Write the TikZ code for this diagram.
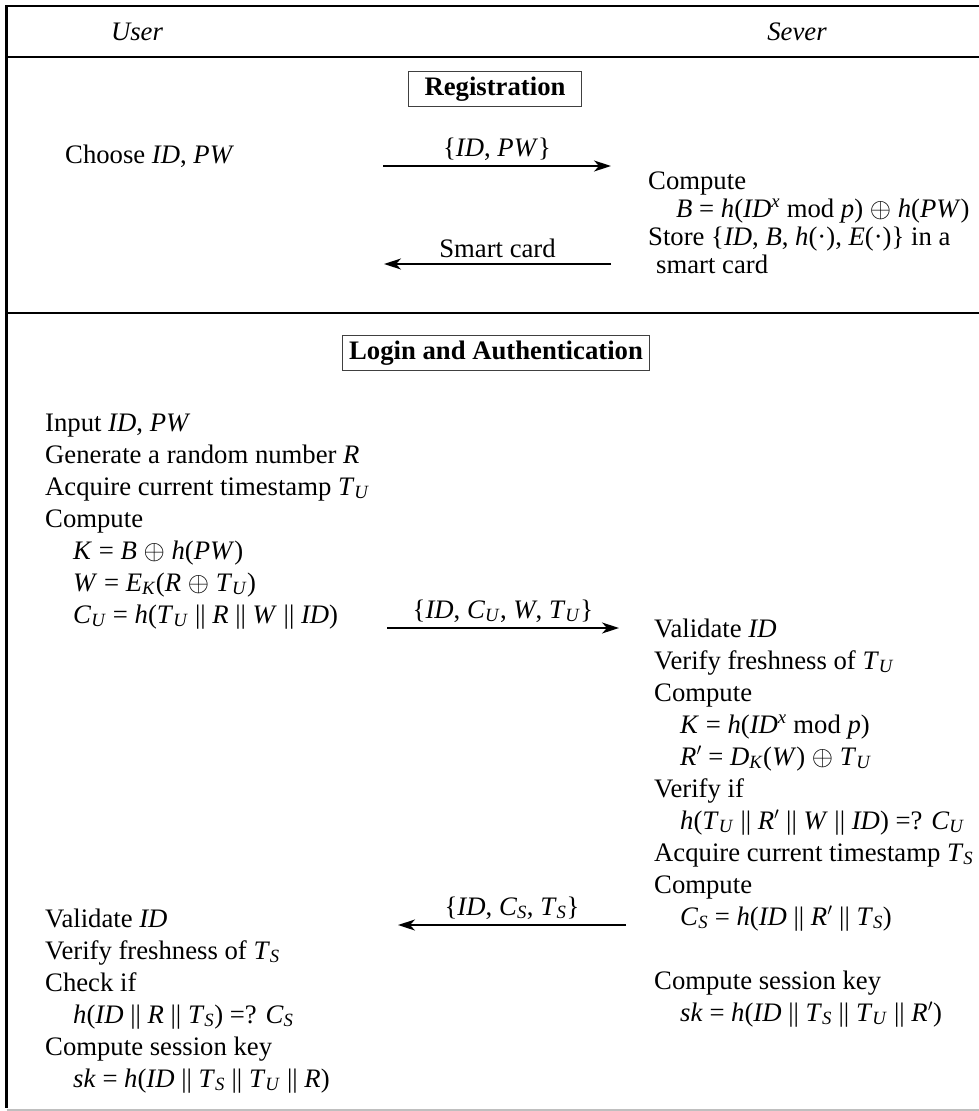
\documentclass[tikz,border=0pt]{standalone}
\usepackage{fontspec}
\setmainfont{Liberation Serif}
\usetikzlibrary{arrows.meta}
\newcommand{\I}[1]{\textit{#1}}
\newcommand{\sbs}[1]{\textsubscript{\textit{#1}}}
\newcommand{\xr}{\scalebox{1.1}{$\oplus$}}
\newcommand{\pr}{$'$}
\tikzset{
  frame/.style={line width=2.6pt,black},
  txt/.style={anchor=base west,inner sep=0pt,font=\fontsize{26.7}{32}\selectfont},
  hdr/.style={inner sep=0pt,font=\fontsize{26.7}{32}\selectfont\itshape},
  phase/.style={draw=black!75,line width=1pt,inner xsep=16pt,inner ysep=5pt,font=\fontsize{26.7}{32}\selectfont\bfseries},
  msg/.style={line width=1.5pt,-{Stealth[length=17pt,width=11pt,inset=5pt]}},
  lbl/.style={inner sep=0pt,font=\fontsize{26.7}{32}\selectfont}
}
\begin{document}
\begin{tikzpicture}[x=1pt,y=-1pt]
\useasboundingbox (0,0) rectangle (979,1111);
% frame
\draw[frame] (6.5,6) -- (979,6);
\draw[frame] (6.5,5) -- (6.5,1108);
\draw[frame] (6.5,57) -- (979,57);
\draw[frame] (6.5,313) -- (979,313);
\draw[line width=2pt,black!25] (6.5,1110) -- (979,1110);
% headers
\node[hdr] (user) at (137,32) {User};
\node[hdr] (sever) at (797,32) {Sever};
% registration
\node[phase] (reg) at (495,89) {Registration};
\node[txt] (choose) at (65,163) {Choose \I{ID}, \I{PW}};
\node[txt] (rc1) at (648,189) {Compute};
\node[txt] (rc2) at (676,217) {\I{B} = \I{h}(\I{ID}\textsuperscript{\I{x}} mod \I{p}) \xr\ \I{h}(\I{PW})};
\node[txt] (rc3) at (648,245) {Store \{\I{ID}, \I{B}, \I{h}(·), \I{E}(·)\} in a};
\node[txt] (rc4) at (656,273) {smart card};
\coordinate (m1a) at (383,166);
\coordinate (m1b) at (611,166);
\draw[msg] (m1a) -- (m1b) node[lbl,midway,above=5pt] (m1l) {\{\I{ID}, \I{PW}\}};
\coordinate (m2a) at (611,264);
\coordinate (m2b) at (384,264);
\draw[msg] (m2a) -- (m2b) node[lbl,midway,above=5pt] (m2l) {Smart card};
% login
\node[phase,inner xsep=7pt] (login) at (496,353) {Login and Authentication};
\node[txt] (u1) at (45,431) {Input \I{ID}, \I{PW}};
\node[txt] (u2) at (45,463) {Generate a random number \I{R}};
\node[txt] (u3) at (45,495) {Acquire current timestamp \I{T}\sbs{U}};
\node[txt] (u4) at (45,527) {Compute};
\node[txt] (u5) at (73,559) {\I{K} = \I{B} \xr\ \I{h}(\I{PW})};
\node[txt] (u6) at (73,591) {\I{W} = \I{E}\sbs{K}(\I{R} \xr\ \I{T}\sbs{U})};
\node[txt] (u7) at (73,623) {\I{C}\sbs{U} = \I{h}(\I{T}\sbs{U} || \I{R} || \I{W} || \I{ID})};
\coordinate (m3a) at (387,628);
\coordinate (m3b) at (619,628);
\draw[msg] (m3a) -- (m3b) node[lbl,midway,above=5pt] (m3l) {\{\I{ID}, \I{C}\sbs{U}, \I{W}, \I{T}\sbs{U}\}};
\node[txt] (s1) at (654,637) {Validate \I{ID}};
\node[txt] (s2) at (654,669) {Verify freshness of \I{T}\sbs{U}};
\node[txt] (s3) at (654,701) {Compute};
\node[txt] (s4) at (680,733) {\I{K} = \I{h}(\I{ID}\textsuperscript{\I{x}} mod \I{p})};
\node[txt] (s5) at (680,765) {\I{R}\pr\ = \I{D}\sbs{K}(\I{W}) \xr\ \I{T}\sbs{U}};
\node[txt] (s6) at (654,797) {Verify if};
\node[txt] (s7) at (680,829) {\I{h}(\I{T}\sbs{U} || \I{R}\pr\ || \I{W} || \I{ID}) =? \I{C}\sbs{U}};
\node[txt] (s8) at (654,861) {Acquire current timestamp \I{T}\sbs{S}};
\node[txt] (s9) at (654,893) {Compute};
\node[txt] (s10) at (680,925) {\I{C}\sbs{S} = \I{h}(\I{ID} || \I{R}\pr\ || \I{T}\sbs{S})};
\node[txt] (s11) at (654,989) {Compute session key};
\node[txt] (s12) at (680,1021) {\I{sk} = \I{h}(\I{ID} || \I{T}\sbs{S} || \I{T}\sbs{U} || \I{R}\pr)};
\coordinate (m4a) at (626,925);
\coordinate (m4b) at (398,925);
\draw[msg] (m4a) -- (m4b) node[lbl,midway,above=5pt] (m4l) {\{\I{ID}, \I{C}\sbs{S}, \I{T}\sbs{S}\}};
\node[txt] (v1) at (45,927) {Validate \I{ID}};
\node[txt] (v2) at (45,959) {Verify freshness of \I{T}\sbs{S}};
\node[txt] (v3) at (45,991) {Check if};
\node[txt] (v4) at (73,1023) {\I{h}(\I{ID} || \I{R} || \I{T}\sbs{S}) =? \I{C}\sbs{S}};
\node[txt] (v5) at (45,1055) {Compute session key};
\node[txt] (v6) at (73,1087) {\I{sk} = \I{h}(\I{ID} || \I{T}\sbs{S} || \I{T}\sbs{U} || \I{R})};
\end{tikzpicture}
\end{document}
